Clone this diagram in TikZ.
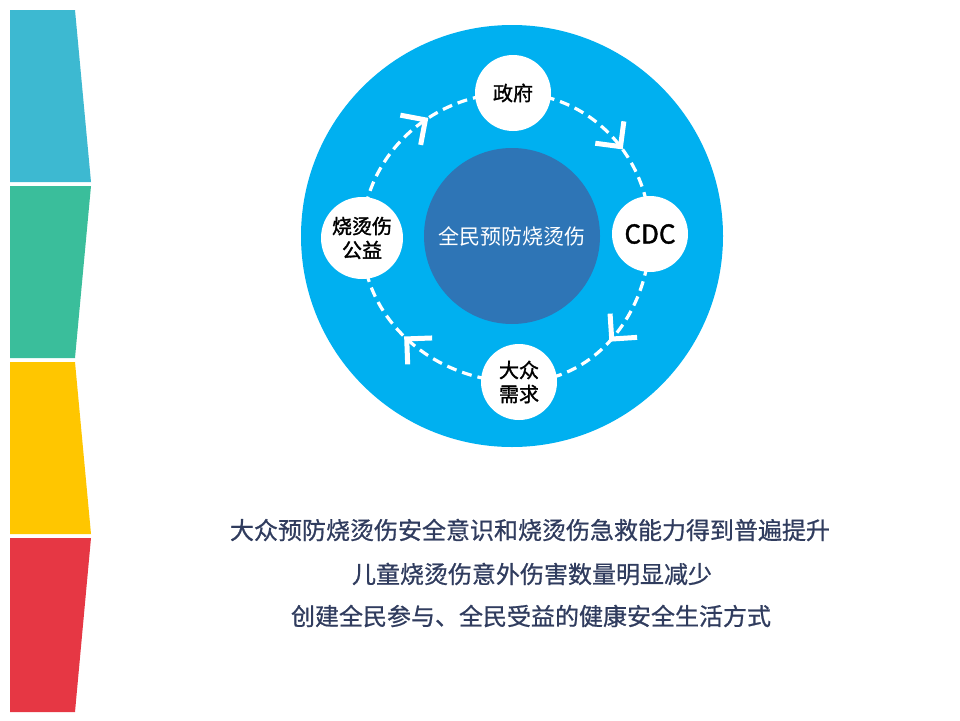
\documentclass[tikz,border=0pt]{standalone}
\usepackage{fontspec}
\newfontfamily\cjk{Noto Sans CJK SC}
\newfontfamily\cjkmid[FakeBold=1.6]{Noto Sans CJK SC}
\newfontfamily\cjkgoal[FakeBold=0.8]{Noto Sans CJK SC}
\usetikzlibrary{decorations.markings}
\definecolor{barcyan}{HTML}{3DB9D1}
\definecolor{bargreen}{HTML}{3ABE9B}
\definecolor{baryellow}{HTML}{FFC600}
\definecolor{barred}{HTML}{E63744}
\definecolor{ringblue}{HTML}{00B0F0}
\definecolor{coreblue}{HTML}{2E75B6}
\definecolor{goalnavy}{HTML}{303C5E}
\pgfdeclarelayer{back}
\pgfdeclarelayer{flows}
\pgfsetlayers{back,flows,main}
\begin{document}
\begin{tikzpicture}[x=1pt,y=-1pt,
    actor/.style={circle,fill=white,minimum size=76pt,inner sep=0pt,align=center,
      font=\cjkmid\fontsize{20}{24}\selectfont},
    flow/.style={white,line width=3.2pt,dash pattern=on 10pt off 6pt,
      postaction={decorate},
      decoration={markings,mark=at position #1 with
        {\draw[solid,line width=5pt,miter limit=10] (-18pt,18pt) -- (0pt,0pt) -- (-18pt,-18pt);}}},
    flow/.default=0.5,
    goal/.style={text=goalnavy,font=\cjkgoal\fontsize{24}{28}\selectfont}]
  \useasboundingbox (0,0) rectangle (960,720);

  % side bars
  \fill[barcyan] (10,10) -- (75,10) -- (91,182) -- (10,182) -- cycle;
  \fill[bargreen] (10,186) -- (91,186) -- (75,358) -- (10,358) -- cycle;
  \fill[baryellow] (10,362) -- (75,362) -- (91,534) -- (10,534) -- cycle;
  \fill[barred] (10,538) -- (91,538) -- (75,712) -- (10,712) -- cycle;

  % ring
  \begin{pgfonlayer}{back}
    \fill[ringblue] (512,236) circle (211);
  \end{pgfonlayer}
  \node[circle,fill=coreblue,minimum size=176pt,text=white,
    font=\cjk\fontsize{21}{25}\selectfont] (core) at (512,236) {全民预防烧烫伤};

  \node[actor] (gov) at (513,93) {政府};
  \node[actor,font=\cjkmid\fontsize{26}{30}\selectfont] (cdc) at (650,234) {CDC};
  \node[actor] (public) at (519,382) {大众\\需求};
  \node[actor,minimum size=82pt] (charity) at (362,238) {烧烫伤\\公益};

  \begin{pgfonlayer}{flows}
    \draw[flow=0.57] (gov.center) to[out=0,in=90] (cdc.center);
    \draw[flow=0.52] (cdc.center) to[out=-90,in=0] (public.center);
    \draw[flow=0.52] (public.center) to[out=180,in=-90] (charity.center);
    \draw[flow=0.6] (charity.center) to[out=90,in=180] (gov.center);
  \end{pgfonlayer}

  % goals
  \node[goal] (goal1) at (530,530) {大众预防烧烫伤安全意识和烧烫伤急救能力得到普遍提升};
  \node[goal] (goal2) at (532,574) {儿童烧烫伤意外伤害数量明显减少};
  \node[goal] (goal3) at (531,616) {创建全民参与、全民受益的健康安全生活方式};
\end{tikzpicture}
\end{document}
